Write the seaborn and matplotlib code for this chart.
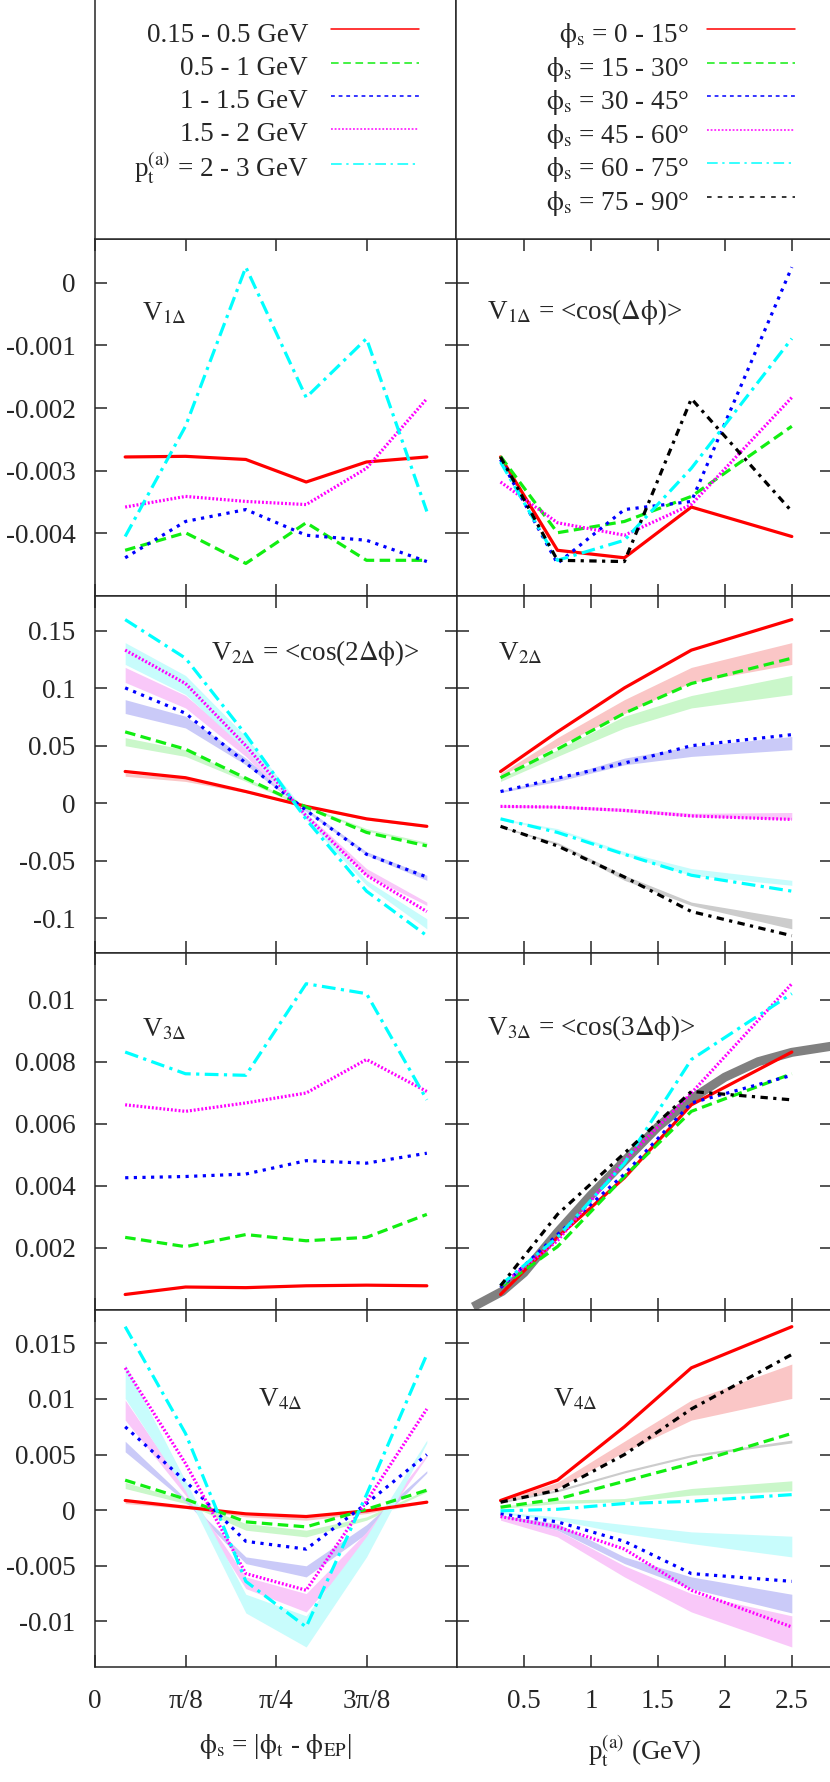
import numpy as np
import matplotlib.pyplot as plt
import seaborn as sns
from matplotlib.lines import Line2D

# bin centres
phi_s_deg = [7.5, 22.5, 37.5, 52.5, 67.5, 82.5]
pt_centers = [0.325, 0.75, 1.25, 1.75, 2.5]

pt_labels = ["0.15 - 0.5 GeV", "0.5 - 1 GeV", "1 - 1.5 GeV", "1.5 - 2 GeV",
             r"p$_{\mathrm{t}}^{\mathrm{(a)}}$ = 2 - 3 GeV"]
phi_labels = [r"$\mathrm{\phi_{s}}$ = 0 - 15°", r"$\mathrm{\phi_{s}}$ = 15 - 30°",
              r"$\mathrm{\phi_{s}}$ = 30 - 45°", r"$\mathrm{\phi_{s}}$ = 45 - 60°",
              r"$\mathrm{\phi_{s}}$ = 60 - 75°", r"$\mathrm{\phi_{s}}$ = 75 - 90°"]

# V_n[pt bin][phi_s bin]
v1 = [[-0.00278, -0.00277, -0.00282, -0.00318, -0.00286, -0.00278],
      [-0.00427, -0.00399, -0.00448, -0.00383, -0.00443, -0.00443],
      [-0.00439, -0.00381, -0.00362, -0.00403, -0.00411, -0.00445],
      [-0.00358, -0.00341, -0.00349, -0.00354, -0.00296, -0.00185],
      [-0.00405, -0.00229, 0.00025, -0.00183, -0.00089, -0.00365]]

v2 = [[0.0276, 0.0222, 0.0102, -0.0027, -0.0135, -0.0200],
      [0.0620, 0.0470, 0.0218, -0.0033, -0.0253, -0.0370],
      [0.1002, 0.0782, 0.0349, -0.0062, -0.0443, -0.0640],
      [0.1330, 0.1040, 0.0500, -0.0110, -0.0625, -0.0940],
      [0.1595, 0.1260, 0.0596, -0.0140, -0.0763, -0.1150]]
v2_lo = [[0.0235, 0.0190, 0.0093, -0.0035, -0.0145, -0.0209],
         [0.0500, 0.0407, 0.0190, -0.0040, -0.0240, -0.0360],
         [0.0780, 0.0654, 0.0334, -0.0073, -0.0450, -0.0669],
         [0.1050, 0.0828, 0.0407, -0.0116, -0.0625, -0.0887],
         [0.1206, 0.0945, 0.0465, -0.0140, -0.0712, -0.1090]]
v2_hi = [[0.0260, 0.0220, 0.0110, -0.0015, -0.0130, -0.0198],
         [0.0570, 0.0465, 0.0220, -0.0020, -0.0220, -0.0340],
         [0.0900, 0.0756, 0.0392, -0.0044, -0.0420, -0.0625],
         [0.1180, 0.0936, 0.0494, -0.0087, -0.0567, -0.0858],
         [0.1395, 0.1110, 0.0580, -0.0080, -0.0669, -0.1003]]

v3 = [[0.00050, 0.00074, 0.00072, 0.00078, 0.00080, 0.00078],
      [0.00234, 0.00204, 0.00243, 0.00223, 0.00234, 0.00308],
      [0.00426, 0.00430, 0.00438, 0.00481, 0.00473, 0.00505],
      [0.00661, 0.00640, 0.00667, 0.00699, 0.00807, 0.00704],
      [0.00831, 0.00761, 0.00756, 0.01051, 0.01019, 0.00677]]

v4 = [[0.00087, 0.00027, -0.00033, -0.00057, -0.00006, 0.00072],
      [0.00270, 0.00100, -0.00105, -0.00150, 0.00008, 0.00180],
      [0.00750, 0.00260, -0.00280, -0.00350, 0.00060, 0.00500],
      [0.01280, 0.00420, -0.00570, -0.00720, 0.00080, 0.00910],
      [0.01650, 0.00690, -0.00640, -0.01050, 0.00140, 0.01400]]
v4_lo = [[0.00060, 0.00015, -0.00060, -0.00090, -0.00030, 0.00065],
         [0.00195, 0.00060, -0.00180, -0.00240, -0.00090, 0.00165],
         [0.00525, 0.00075, -0.00480, -0.00600, -0.00210, 0.00335],
         [0.00810, 0.00135, -0.00705, -0.00915, -0.00300, 0.00480],
         [0.01005, 0.00174, -0.00924, -0.01230, -0.00420, 0.00605]]
v4_hi = [[0.00084, 0.00036, -0.00045, -0.00060, -0.00015, 0.00080],
         [0.00250, 0.00090, -0.00120, -0.00180, -0.00060, 0.00185],
         [0.00620, 0.00105, -0.00420, -0.00500, -0.00130, 0.00355],
         [0.00990, 0.00195, -0.00600, -0.00750, -0.00195, 0.00500],
         [0.01314, 0.00264, -0.00756, -0.00950, -0.00234, 0.00630]]

# thick grey reference curve in the V3 vs pt panel
gray_pt = [0.12, 0.3375, 0.5, 0.75, 1.0, 1.25, 1.5, 1.75, 2.0, 2.25, 2.5, 2.8]
gray_v3 = [0.0001, 0.0006, 0.0012, 0.0025, 0.0037, 0.0048, 0.0059, 0.0068, 0.0075, 0.0080, 0.0083, 0.0085]

colors = ["#ff0000", "#11ee11", "#0000ff", "#ff00ff", "#00ffff", "#000000"]
band_colors = ["#fac6c6", "#caf7ca", "#cacaf8", "#f9c8f9", "#c8fcfc", "#cccccc"]
dashes = [(), (3.3, 1.7), (1.0, 1.7), (0.6, 0.6), (4.3, 1.7, 1.0, 1.7), (2.3, 1.7, 1.0, 1.7)]
leg_dashes = [(), (5, 3), (2.5, 2.5), (1.2, 1.2), (7, 3, 1.5, 3), (3, 4)]

sns.set_style("ticks")
plt.rcParams["font.family"] = ["Liberation Serif", "DejaVu Serif"]
plt.rcParams["mathtext.fontset"] = "stix"
plt.rcParams["axes.unicode_minus"] = False
plt.rcParams["axes.linewidth"] = 1.1
FS = 19.5

W, H = 830, 1782
fig = plt.figure(figsize=(8.3, 17.82), dpi=100)

rows = [
    dict(v=v1, lo=None, hi=None, ylim=(-0.005, 0.0007),
         ticks=[-0.004, -0.003, -0.002, -0.001, 0],
         tlabels=["-0.004", "-0.003", "-0.002", "-0.001", "0"],
         ltxt=(r"V$_{1\Delta}$", 0.13, 0.79),
         rtxt=(r"V$_{1\Delta}$ = <cos($\Delta\mathrm{\phi}$)>", 0.08, 0.795)),
    dict(v=v2, lo=v2_lo, hi=v2_hi, ylim=(-0.13, 0.18),
         ticks=[-0.1, -0.05, 0, 0.05, 0.1, 0.15],
         tlabels=["-0.1", "-0.05", "0", "0.05", "0.1", "0.15"],
         ltxt=(r"V$_{2\Delta}$ = <cos(2$\Delta\mathrm{\phi}$)>", 0.32, 0.84),
         rtxt=(r"V$_{2\Delta}$", 0.11, 0.84)),
    dict(v=v3, lo=None, hi=None, ylim=(0, 0.0115),
         ticks=[0.002, 0.004, 0.006, 0.008, 0.01],
         tlabels=["0.002", "0.004", "0.006", "0.008", "0.01"],
         ltxt=(r"V$_{3\Delta}$", 0.13, 0.785),
         rtxt=(r"V$_{3\Delta}$ = <cos(3$\Delta\mathrm{\phi}$)>", 0.08, 0.79)),
    dict(v=v4, lo=v4_lo, hi=v4_hi, ylim=(-0.0141, 0.018),
         ticks=[-0.01, -0.005, 0, 0.005, 0.01, 0.015],
         tlabels=["-0.01", "-0.005", "0", "0.005", "0.01", "0.015"],
         ltxt=(r"V$_{4\Delta}$", 0.45, 0.75),
         rtxt=(r"V$_{4\Delta}$", 0.255, 0.75)),
]
row_tops = [239, 596, 953, 1310]
panel_h = 357

for r, (cfg, top) in enumerate(zip(rows, row_tops)):
    bottom = 1 - (top + panel_h) / H
    axL = fig.add_axes([95 / W, bottom, 362 / W, panel_h / H])
    axR = fig.add_axes([457 / W, bottom, 375 / W, panel_h / H])
    v = np.array(cfg["v"])

    # left: curves vs phi_s, one per pt bin
    for i in range(v.shape[0]):
        if cfg["lo"] is not None:
            axL.fill_between(phi_s_deg, cfg["lo"][i], cfg["hi"][i], color=band_colors[i], lw=0, zorder=1)
    for i in range(v.shape[0]):
        sns.lineplot(x=phi_s_deg, y=v[i], ax=axL, color=colors[i], dashes=dashes[i], lw=2.3, zorder=3)

    # right: curves vs pt, one per phi_s bin
    if r == 2:
        sns.lineplot(x=gray_pt, y=gray_v3, ax=axR, color="#808080", lw=6.5, clip_on=False, zorder=2,
                     solid_capstyle="butt", solid_joinstyle="round")
    for j in range(v.shape[1]):
        if cfg["lo"] is not None:
            axR.fill_between(pt_centers, np.array(cfg["lo"])[:, j], np.array(cfg["hi"])[:, j],
                             color=band_colors[j], lw=0, zorder=1)
    for j in range(v.shape[1]):
        sns.lineplot(x=pt_centers, y=v[:, j], ax=axR, color=colors[j], dashes=dashes[j], lw=2.3, zorder=3)

    for ax in (axL, axR):
        ax.set_ylim(*cfg["ylim"])
        ax.set_yticks(cfg["ticks"])
        ax.tick_params(direction="in", length=8.6, width=1.1, top=True, right=True,
                       labelsize=FS, pad=14)
        ax.tick_params(axis="x", pad=16)
        ax.set_xlabel("")
        ax.set_ylabel("")
    axL.set_yticklabels(cfg["tlabels"])
    axR.set_yticklabels([])

    axL.set_xlim(0, 90)
    axL.set_xticks([0, 22.5, 45, 67.5])
    axR.set_xlim(0, 2.8)
    axR.set_xticks([0.5, 1, 1.5, 2, 2.5])
    if r == 3:
        axL.set_xticklabels(["0", "π/8", "π/4", "3π/8"])
        axR.set_xticklabels(["0.5", "1", "1.5", "2", "2.5"])
        axL.set_xlabel(r"$\mathrm{\phi_{s}}$ = |$\mathrm{\phi_{t}}$ - $\mathrm{\phi_{EP}}$|",
                       fontsize=FS, labelpad=13)
        axR.set_xlabel(r"p$_{\mathrm{t}}^{\mathrm{(a)}}$ (GeV)", fontsize=FS, labelpad=13)
    else:
        axL.set_xticklabels([])
        axR.set_xticklabels([])

    t, x, y = cfg["ltxt"]
    axL.text(x, y, t, transform=axL.transAxes, fontsize=FS, va="center", ha="left")
    t, x, y = cfg["rtxt"]
    axR.text(x, y, t, transform=axR.transAxes, fontsize=FS, va="center", ha="left")

# legend boxes on top
legL = fig.add_axes([95 / W, 1 - 239 / H, 361 / W, 240 / H])
legR = fig.add_axes([456 / W, 1 - 239 / H, 376 / W, 240 / H])
for ax in (legL, legR):
    ax.set_xticks([])
    ax.set_yticks([])

hL = [Line2D([], [], color=colors[i], lw=1.1, dashes=leg_dashes[i]) for i in range(5)]
hR = [Line2D([], [], color=colors[j], lw=1.1, dashes=leg_dashes[j]) for j in range(6)]
leg_kw = dict(loc="upper right", frameon=False, markerfirst=False, fontsize=FS,
              handlelength=3.25, handleheight=1.5, labelspacing=0.0,
              borderpad=0, borderaxespad=0)
legL.legend(hL, pt_labels, bbox_to_anchor=(0.898, 0.926), handletextpad=0.85, **leg_kw)
legR.legend(hR, phi_labels, bbox_to_anchor=(0.901, 0.926), handletextpad=0.65, **leg_kw)

fig.savefig("out.png", dpi=100)
